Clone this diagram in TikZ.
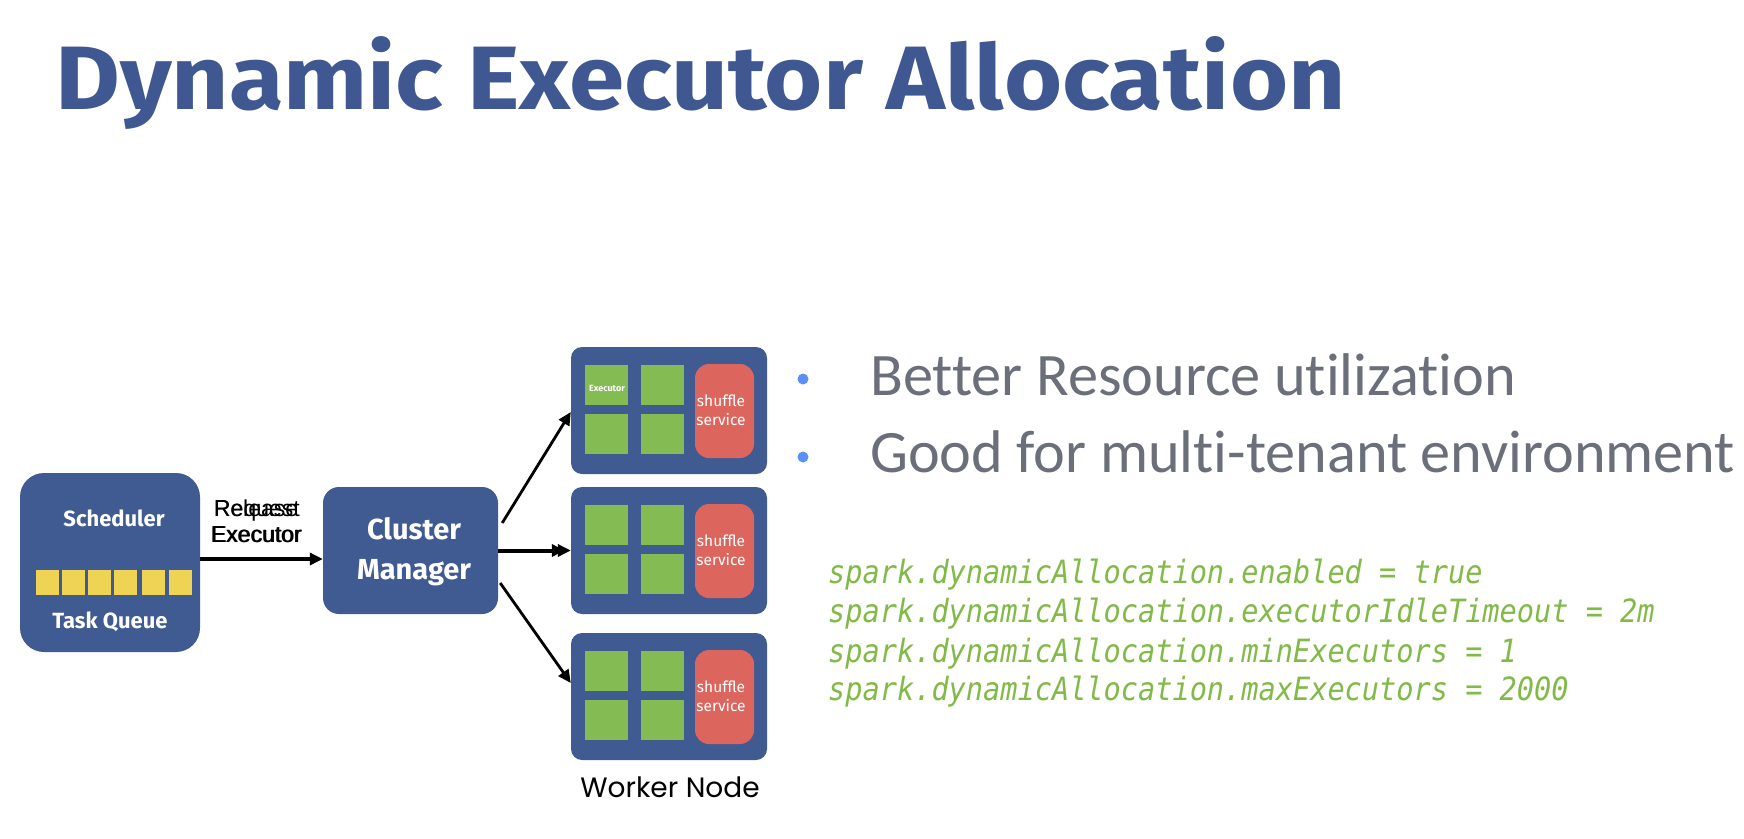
\documentclass[tikz,border=0pt]{standalone}
\usepackage{fontspec}
\setmainfont{Fira Sans}
\newfontfamily\bulletfont{Carlito}[Ligatures={NoCommon}]
\newfontfamily\codefont{DejaVu Sans Mono}
\newfontfamily\arialfont{Liberation Sans}
\newfontfamily\workerfont{Poppins}
\usetikzlibrary{arrows.meta}
\definecolor{titleblue}{HTML}{3F5892}
\definecolor{boxblue}{HTML}{405A92}
\definecolor{exgreen}{HTML}{85BB53}
\definecolor{shred}{HTML}{DC665D}
\definecolor{qyellow}{HTML}{EFD354}
\definecolor{bulgray}{HTML}{6B6F7A}
\definecolor{dotblue}{HTML}{5B8FF5}
\definecolor{codegreen}{HTML}{82BA48}
\tikzset{
  bluebox/.style={fill=boxblue, draw=none, inner sep=0pt},
  exbox/.style={fill=exgreen, draw=none, minimum width=43pt, minimum height=40pt, inner sep=0pt},
  shbox/.style={fill=shred, draw=none, rounded corners=14pt, minimum width=59pt, minimum height=94pt, inner sep=0pt},
  qbox/.style={fill=qyellow, draw=none, minimum width=23pt, minimum height=25pt, inner sep=0pt},
  whitetxt/.style={text=white, inner sep=0pt, align=center},
  arr/.style={draw=black, line width=3.2pt, -{Triangle[length=13pt,width=12pt]}},
  edgelbl/.style={font=\arialfont\fontsize{23}{26}\selectfont, align=center, inner sep=0pt},
  codeline/.style={anchor=base west, inner sep=0pt, text=codegreen, font=\codefont\itshape\fontsize{28.6}{30}\selectfont},
  bullettxt/.style={anchor=base west, inner sep=0pt, text=bulgray},
  bulletdot/.style={circle, fill=dotblue, minimum size=11pt, inner sep=0pt}
}
\newcommand{\codetxt}[1]{\scalebox{1}[1.12]{#1}}
\begin{document}
\begin{tikzpicture}[x=1pt,y=-1pt]
\useasboundingbox[fill=white] (0,0) rectangle (1744,838);
% title
\node[anchor=base west, inner sep=0pt, text=titleblue] (title) at (55,109)
  {\resizebox{1290pt}{73pt}{\bfseries Dynamic Executor Allocation}};
% scheduler
\node[bluebox, rounded corners=24pt, minimum width=180pt, minimum height=179pt] (sched) at (110,562.5) {};
\node[whitetxt, font=\bfseries\fontsize{22}{26}\selectfont] (schedlbl) at (114,518) {Scheduler};
\foreach \i/\x in {1/47.5,2/73,3/99.5,4/125.5,5/153.5,6/180.5}{
  \node[qbox] (q\i) at (\x,582.5) {};
}
\node[whitetxt, font=\bfseries\fontsize{22}{26}\selectfont] (tasklbl) at (110,622) {Task Queue};
% cluster manager
\node[bluebox, rounded corners=16pt, minimum width=175pt, minimum height=127pt] (cm) at (410.5,550.5) {};
\node[whitetxt, font=\bfseries\fontsize{29}{40}\selectfont] (cmlbl) at (414,551.5) {Cluster\\Manager};
% edge sched -> cm
\draw[arr, line width=3.6pt] ([yshift=3.5pt]sched.east) -- ([yshift=-8.5pt]cm.west);
\node[edgelbl] (rel) at (256,521) {Release\\Executor};
\node[edgelbl] (req) at (257,522) {Request\\Executor};
% workers
\foreach \n/\t in {1/347,2/487,3/633}{
  \node[bluebox, rounded corners=11pt, minimum width=196pt, minimum height=127pt] (w\n) at (669,\t+63.5) {};
  \node[exbox] (w\n a) at (606.5,\t+37.5) {};
  \node[exbox] (w\n b) at (662.5,\t+37.5) {};
  \node[exbox] (w\n c) at (606.5,\t+86.5) {};
  \node[exbox] (w\n d) at (662.5,\t+86.5) {};
  \node[shbox] (w\n s) at (724.5,\t+64) {};
  \node[whitetxt, font=\fontsize{15.5}{19}\selectfont] (w\n sl) at (721,\t+63.5) {shuffle\\service};
}
\node[whitetxt, font=\bfseries\fontsize{9}{10}\selectfont] (exlbl) at (607,388) {Executor};
% arrows cm -> workers
\draw[arr, line width=2.8pt] ([xshift=4pt,yshift=27.5pt]cm.east) -- ([yshift=-1.5pt]w1.west);
\draw[arr, line width=4pt] (cm.east) -- ([xshift=-6pt]w2.west);
\draw[arr] (cm.east) -- (w2.west);
\draw[arr, line width=2.8pt] ([xshift=2pt,yshift=-32.5pt]cm.east) -- ([yshift=13.5pt]w3.west);
\node[inner sep=0pt, font=\workerfont\fontsize{28}{30}\selectfont] (wlbl) at (670,787) {Worker Node};
% bullets
\node[bulletdot] (d1) at (803,379) {};
\node[bulletdot] (d2) at (803,457) {};
\node[bullettxt] (b1) at (870,395) {\resizebox{646pt}{!}{\bulletfont\fontsize{58}{60}\selectfont Better Resource utilization}};
\node[bullettxt] (b2) at (870,472) {\resizebox{865pt}{!}{\bulletfont\fontsize{58}{60}\selectfont Good for multi-tenant environment}};
% code
\node[codeline] (c1) at (828,583) {\codetxt{spark.dynamicAllocation.enabled = true}};
\node[codeline] (c2) at (828,622) {\codetxt{spark.dynamicAllocation.executorIdleTimeout = 2m}};
\node[codeline] (c3) at (828,662) {\codetxt{spark.dynamicAllocation.minExecutors = 1}};
\node[codeline] (c4) at (828,700) {\codetxt{spark.dynamicAllocation.maxExecutors = 2000}};
\end{tikzpicture}
\end{document}
